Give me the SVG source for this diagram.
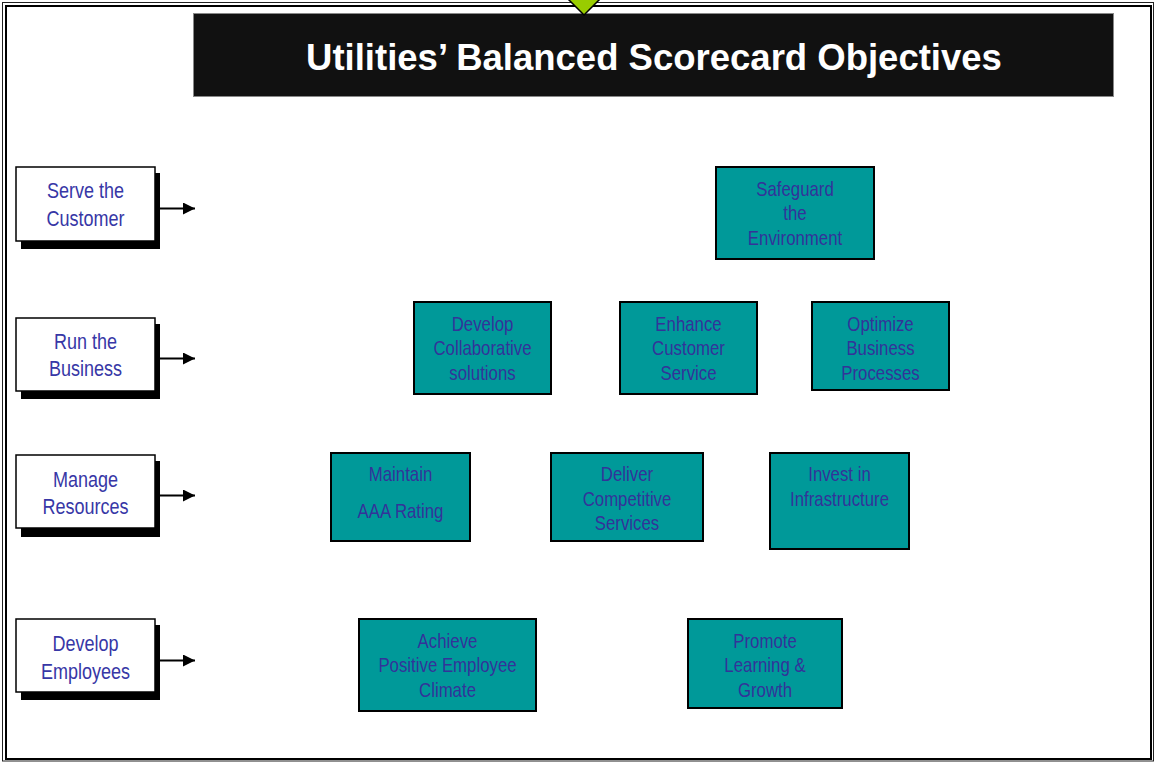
<svg xmlns="http://www.w3.org/2000/svg" width="1156" height="762" viewBox="0 0 1156 762">
  <defs>
    <style>
      .frame-outer { fill: none; stroke: #222; stroke-width: 1; }
      .frame-inner { fill: none; stroke: #000; stroke-width: 2; }
      .title-box { fill: #111; stroke: #888; stroke-width: 1; }
      .title { fill: #fff; font-family: "Liberation Sans", Arial, sans-serif; font-weight: bold; font-size: 36.5px; text-anchor: middle; }
      .persp-shadow { fill: #000; }
      .persp-box { fill: #fff; stroke: #000; stroke-width: 1.5; }
      .persp-text { fill: #3737a6; font-family: "Liberation Sans", Arial, sans-serif; font-size: 22px; text-anchor: middle; }
      .obj-box { fill: #009999; stroke: #000; stroke-width: 2; }
      .obj-text { fill: #333399; font-family: "Liberation Sans", Arial, sans-serif; font-size: 20.5px; text-anchor: middle; }
      .arrow { stroke: #000; stroke-width: 2; fill: none; marker-end: url(#head); }
    </style>
    <marker id="head" viewBox="0 0 10 10" refX="10" refY="5" markerWidth="14" markerHeight="12" markerUnits="userSpaceOnUse" orient="auto">
      <path d="M0,0 L10,5 L0,10 Z" fill="#000"/>
    </marker>
  </defs>

  <rect width="1156" height="762" fill="#fff"/>

  <!-- page frame -->
  <rect class="frame-outer" x="2.5" y="2.5" width="1151" height="758.5"/>
  <rect class="frame-inner" x="6" y="6" width="1145" height="753"/>

  <!-- heading -->
  <g id="title">
    <rect class="title-box" x="193.5" y="13.5" width="920" height="83"/>
    <text class="title" x="654" y="69.5">Utilities’ Balanced Scorecard Objectives</text>
  </g>

  <!-- marker pointing down onto the heading -->
  <polygon id="pointer" points="566,-3 602,-3 584,15" fill="#99cc00" stroke="#000" stroke-width="1.5"/>

  <!-- perspectives (labels set in a condensed face: scaled horizontally) -->
  <g id="serve-customer">
    <rect class="persp-shadow" x="21" y="173" width="139" height="76"/>
    <rect class="persp-box" x="16" y="167" width="139" height="74"/>
    <g transform="translate(85.5 0) scale(0.82 1)">
      <text class="persp-text" x="0" y="198">Serve the</text>
      <text class="persp-text" x="0" y="226">Customer</text>
    </g>
  </g>
  <g id="run-business">
    <rect class="persp-shadow" x="21" y="324" width="139" height="75"/>
    <rect class="persp-box" x="16" y="318" width="139" height="73"/>
    <g transform="translate(85.5 0) scale(0.82 1)">
      <text class="persp-text" x="0" y="349">Run the</text>
      <text class="persp-text" x="0" y="376">Business</text>
    </g>
  </g>
  <g id="manage-resources">
    <rect class="persp-shadow" x="21" y="461" width="139" height="76"/>
    <rect class="persp-box" x="16" y="455" width="139" height="73"/>
    <g transform="translate(85.5 0) scale(0.82 1)">
      <text class="persp-text" x="0" y="487">Manage</text>
      <text class="persp-text" x="0" y="514">Resources</text>
    </g>
  </g>
  <g id="develop-employees">
    <rect class="persp-shadow" x="21" y="625" width="139" height="75"/>
    <rect class="persp-box" x="16" y="619" width="139" height="73"/>
    <g transform="translate(85.5 0) scale(0.82 1)">
      <text class="persp-text" x="0" y="651">Develop</text>
      <text class="persp-text" x="0" y="679">Employees</text>
    </g>
  </g>

  <!-- objectives -->
  <g id="safeguard-environment">
    <rect class="obj-box" x="716" y="167" width="158" height="92"/>
    <g transform="translate(795 0) scale(0.82 1)">
      <text class="obj-text" x="0" y="196">Safeguard</text>
      <text class="obj-text" x="0" y="220">the</text>
      <text class="obj-text" x="0" y="245">Environment</text>
    </g>
  </g>
  <g id="develop-collaborative">
    <rect class="obj-box" x="414" y="302" width="137" height="92"/>
    <g transform="translate(482.5 0) scale(0.82 1)">
      <text class="obj-text" x="0" y="331">Develop</text>
      <text class="obj-text" x="0" y="355">Collaborative</text>
      <text class="obj-text" x="0" y="380">solutions</text>
    </g>
  </g>
  <g id="enhance-service">
    <rect class="obj-box" x="620" y="302" width="137" height="92"/>
    <g transform="translate(688.5 0) scale(0.82 1)">
      <text class="obj-text" x="0" y="331">Enhance</text>
      <text class="obj-text" x="0" y="355">Customer</text>
      <text class="obj-text" x="0" y="380">Service</text>
    </g>
  </g>
  <g id="optimize-processes">
    <rect class="obj-box" x="812" y="302" width="137" height="88"/>
    <g transform="translate(880.5 0) scale(0.82 1)">
      <text class="obj-text" x="0" y="331">Optimize</text>
      <text class="obj-text" x="0" y="355">Business</text>
      <text class="obj-text" x="0" y="380">Processes</text>
    </g>
  </g>
  <g id="maintain-rating">
    <rect class="obj-box" x="331" y="453" width="139" height="88"/>
    <g transform="translate(400.5 0) scale(0.82 1)">
      <text class="obj-text" x="0" y="481">Maintain</text>
      <text class="obj-text" x="0" y="518">AAA Rating</text>
    </g>
  </g>
  <g id="deliver-services">
    <rect class="obj-box" x="551" y="453" width="152" height="88"/>
    <g transform="translate(627 0) scale(0.82 1)">
      <text class="obj-text" x="0" y="481">Deliver</text>
      <text class="obj-text" x="0" y="506">Competitive</text>
      <text class="obj-text" x="0" y="530">Services</text>
    </g>
  </g>
  <g id="invest-infrastructure">
    <rect class="obj-box" x="770" y="453" width="139" height="96"/>
    <g transform="translate(839.5 0) scale(0.82 1)">
      <text class="obj-text" x="0" y="481">Invest in</text>
      <text class="obj-text" x="0" y="506">Infrastructure</text>
    </g>
  </g>
  <g id="employee-climate">
    <rect class="obj-box" x="359" y="619" width="177" height="92"/>
    <g transform="translate(447.5 0) scale(0.82 1)">
      <text class="obj-text" x="0" y="648">Achieve</text>
      <text class="obj-text" x="0" y="672">Positive Employee</text>
      <text class="obj-text" x="0" y="697">Climate</text>
    </g>
  </g>
  <g id="learning-growth">
    <rect class="obj-box" x="688" y="619" width="154" height="89"/>
    <g transform="translate(765 0) scale(0.82 1)">
      <text class="obj-text" x="0" y="648">Promote</text>
      <text class="obj-text" x="0" y="672">Learning &amp;</text>
      <text class="obj-text" x="0" y="697">Growth</text>
    </g>
  </g>

  <!-- connectors -->
  <g id="connectors">
    <line class="arrow" x1="160" y1="208.5" x2="195" y2="208.5"/>
    <line class="arrow" x1="160" y1="358.5" x2="195" y2="358.5"/>
    <line class="arrow" x1="160" y1="495.5" x2="195" y2="495.5"/>
    <line class="arrow" x1="160" y1="660.5" x2="195" y2="660.5"/>
  </g>
</svg>
